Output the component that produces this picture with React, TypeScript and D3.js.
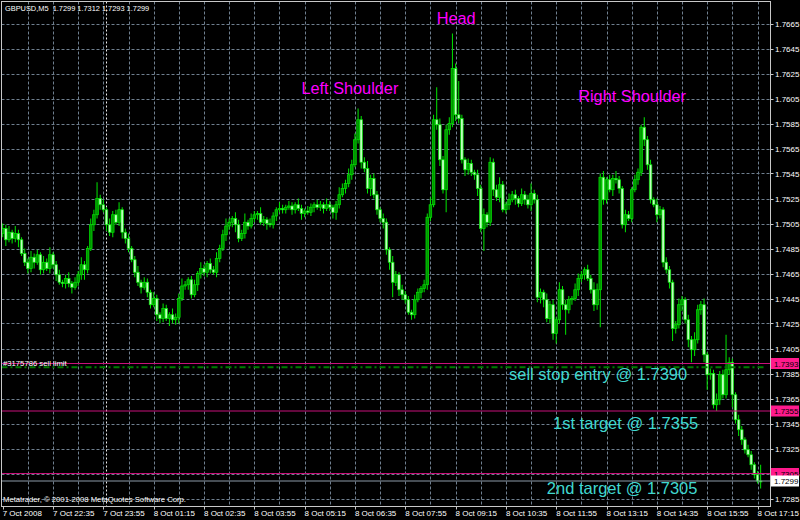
import React from 'react';
import * as d3 from 'd3';

const W = 800;
const H = 520;

const symbolHeader = 'GBPUSD,M5  1.7299 1.7312 1.7293 1.7299';
const copyright = 'Metatrader, \u00a9 2001-2008 MetaQuotes Software Corp.';

// prices in 1/10000 above 1.0000 (7501 => 1.7501)
const firstOpen = 7497;
const closes = [
  7501, 7492, 7498, 7493, 7497, 7492, 7481, 7474, 7469, 7478,
  7474, 7480, 7468, 7474, 7469, 7480, 7472, 7464, 7458, 7457,
  7461, 7457, 7454, 7458, 7464, 7472, 7468, 7485, 7504, 7512,
  7525, 7520, 7516, 7504, 7498, 7512, 7506, 7516, 7498, 7493,
  7485, 7476, 7466, 7458, 7454, 7458, 7450, 7440, 7445, 7432,
  7429, 7437, 7429, 7432, 7428, 7430, 7445, 7455, 7456, 7460,
  7448, 7456, 7465, 7469, 7466, 7473, 7468, 7466, 7477, 7485,
  7496, 7503, 7506, 7509, 7504, 7493, 7497, 7506, 7503, 7509,
  7512, 7513, 7506, 7508, 7505, 7504, 7511, 7516, 7517, 7516,
  7518, 7519, 7516, 7520, 7517, 7513, 7515, 7514, 7518, 7520,
  7518, 7520, 7517, 7520, 7518, 7514, 7520, 7528, 7533, 7537,
  7544, 7552, 7572, 7588, 7554, 7549, 7533, 7541, 7528, 7516,
  7509, 7506, 7484, 7474, 7458, 7464, 7452, 7448, 7444, 7434,
  7432, 7444, 7450, 7453, 7456, 7510, 7520, 7588, 7584, 7556,
  7532, 7580, 7585, 7629, 7592, 7589, 7556, 7548, 7553, 7546,
  7544, 7533, 7501, 7512, 7506, 7554, 7532, 7526, 7536, 7516,
  7520, 7524, 7528, 7525, 7521, 7528, 7524, 7520, 7529, 7524,
  7446, 7450, 7444, 7429, 7440, 7417, 7428, 7452, 7440, 7436,
  7444, 7445, 7452, 7461, 7464, 7468, 7461, 7452, 7440, 7452,
  7542, 7524, 7540, 7532, 7541, 7540, 7533, 7504, 7512, 7509,
  7532, 7540, 7546, 7582, 7572, 7552, 7524, 7520, 7512, 7516,
  7474, 7468, 7458, 7421, 7424, 7440, 7444, 7428, 7412, 7404,
  7412, 7436, 7440, 7400, 7384, 7385, 7360, 7364, 7384, 7368,
  7388, 7394, 7368, 7348, 7340, 7332, 7324, 7320, 7312, 7304,
  7299, 7299,
];
const upperWicks = [
  4, 3, 5, 2, 6, 3, 2, 4, 3, 5,
  3, 4, 2, 5, 3, 6, 2, 3, 4, 2,
  3, 5, 2, 4, 3, 6, 3, 2, 5, 4,
  13, 3, 4, 2, 5, 3, 4, 6, 2, 3,
  4, 2, 3, 5, 2, 4, 3, 2, 5, 3,
  2, 4, 3, 2, 5, 3, 4, 6, 3, 2,
  3, 4, 2, 5, 3, 2, 4, 3, 5, 3,
  4, 6, 3, 2, 5, 4, 3, 7, 2, 4,
  3, 2, 5, 3, 2, 4, 3, 2, 5, 3,
  2, 4, 3, 2, 5, 3, 2, 4, 3, 2,
  4, 3, 2, 5, 3, 2, 3, 6, 4, 3,
  5, 4, 5, 9, 3, 4, 6, 3, 4, 3,
  2, 4, 3, 2, 5, 3, 2, 4, 3, 3,
  2, 4, 3, 2, 4, 3, 6, 4, 26, 5,
  3, 4, 5, 28, 4, 27, 3, 2, 4, 3,
  2, 4, 3, 5, 2, 4, 3, 4, 6, 3,
  2, 5, 3, 4, 2, 5, 3, 4, 8, 3,
  4, 3, 2, 5, 3, 4, 2, 6, 3, 4,
  3, 2, 5, 4, 3, 2, 4, 3, 6, 5,
  3, 5, 2, 4, 3, 6, 3, 2, 4, 3,
  2, 4, 3, 2, 8, 3, 4, 2, 5, 3,
  2, 4, 3, 2, 3, 5, 3, 2, 4, 3,
  6, 4, 3, 5, 2, 4, 3, 5, 3, 4,
  28, 4, 3, 2, 4, 3, 2, 4, 3, 2,
  3, 13,
];
const lowerWicks = [
  3, 5, 2, 4, 3, 6, 2, 3, 4, 3,
  5, 2, 4, 3, 2, 4, 3, 5, 2, 3,
  4, 3, 5, 2, 3, 4, 8, 3, 2, 5,
  3, 4, 2, 5, 3, 4, 2, 3, 5, 4,
  3, 2, 4, 3, 5, 2, 4, 3, 2, 5,
  4, 3, 2, 6, 3, 4, 5, 2, 3, 4,
  3, 2, 5, 4, 3, 4, 3, 2, 4, 3,
  2, 5, 3, 4, 6, 3, 2, 4, 3, 2,
  3, 4, 2, 3, 5, 2, 3, 4, 2, 3,
  3, 2, 4, 3, 2, 5, 3, 2, 3, 4,
  2, 3, 4, 2, 3, 5, 6, 3, 2, 4,
  3, 4, 2, 3, 5, 3, 4, 6, 3, 4,
  3, 5, 4, 6, 12, 3, 5, 4, 3, 2,
  4, 3, 2, 5, 3, 4, 3, 2, 4, 5,
  3, 18, 4, 3, 5, 4, 3, 5, 4, 3,
  4, 6, 3, 18, 4, 3, 5, 3, 4, 2,
  3, 4, 2, 5, 3, 2, 4, 3, 5, 3,
  4, 5, 6, 3, 4, 5, 8, 3, 4, 20,
  3, 4, 2, 5, 3, 4, 2, 3, 5, 4,
  30, 4, 3, 2, 5, 3, 4, 3, 6, 2,
  3, 2, 4, 3, 5, 4, 3, 2, 6, 3,
  4, 3, 5, 10, 4, 3, 5, 3, 6, 10,
  5, 3, 4, 6, 12, 4, 3, 5, 4, 3,
  3, 4, 10, 3, 5, 4, 3, 2, 4, 3,
  2, 6,
];

const priceTicks = [
  1.7285, 1.7305, 1.7325, 1.7345, 1.7365, 1.7385, 1.7405, 1.7425, 1.7445, 1.7465,
  1.7485, 1.7505, 1.7525, 1.7545, 1.7565, 1.7585, 1.7605, 1.7625, 1.7645, 1.7665,
];
const timeLabels = [
  '7 Oct 2008', '7 Oct 22:35', '7 Oct 23:55', '8 Oct 01:15', '8 Oct 02:35', '8 Oct 03:55',
  '8 Oct 05:15', '8 Oct 06:35', '8 Oct 07:55', '8 Oct 09:15', '8 Oct 10:35', '8 Oct 11:55',
  '8 Oct 13:15', '8 Oct 14:35', '8 Oct 15:55', '8 Oct 17:15',
];
const orderLevels = [1.7393, 1.7355, 1.7305];
const bidPrice = 1.7299;
const pendingEntry = 1.7390;
const daySeparatorBar = 33;
const labelEveryBars = 16;
const gridEveryBars = 8;

const patternLabels = [
  { text: 'Head', bar: 138, price: 1.7665 },
  { text: 'Left Shoulder', bar: 95, price: 1.7609 },
  { text: 'Right Shoulder', bar: 183, price: 1.7602 },
];
const tradeLabels = [
  { text: 'sell stop entry @ 1.7390', bar: 161, price: 1.7380 },
  { text: '1st target @ 1.7355', bar: 175, price: 1.7341 },
  { text: '2nd target @ 1.7305', bar: 173, price: 1.7289 },
];

const PLOT = { left: 1.5, top: 1.5, right: 770.5, bottom: 506.5 };
const FONT = 'Liberation Sans, Arial, sans-serif';

export default function App() {
  const n = closes.length;
  const bars = closes.map((c, i) => {
    const o = i === 0 ? firstOpen : closes[i - 1];
    const hi = Math.max(o, c) + upperWicks[i];
    const lo = Math.min(o, c) - lowerWicks[i];
    return { i, o: 1 + o / 1e4, c: 1 + c / 1e4, h: 1 + hi / 1e4, l: 1 + lo / 1e4 };
  });

  const step = 3.145;
  const x = d3.scaleLinear().domain([0, n - 1]).range([2.7, 2.7 + (n - 1) * step]);
  const y = d3.scaleLinear().domain([1.7285, 1.7665]).range([498.5, 23.5]);

  const gridBars = d3.range(gridEveryBars, n, gridEveryBars);
  const labelBars = timeLabels.map((_, k) => k * labelEveryBars);

  const bodyW = 2.6;
  const wickColor = '#00e600';
  const bullFill = '#009600';
  const bearFill = '#bfffbf';
  const gridColor = '#6f7f8f';
  const orderColor = '#c8107a';

  return (
    <svg width={W} height={H} style={{ position: 'absolute', left: 0, top: 0, display: 'block' }}>
      <rect x={0} y={0} width={W} height={H} fill="#000" />
      <defs>
        <clipPath id="plotClip">
          <rect x={PLOT.left} y={PLOT.top} width={PLOT.right - PLOT.left} height={PLOT.bottom - PLOT.top} />
        </clipPath>
      </defs>
      {/* grid */}
      <g stroke={gridColor} strokeWidth={1} strokeDasharray="3,2">
        {priceTicks.map((p) => (
          <line key={'h' + p} x1={PLOT.left} x2={PLOT.right} y1={Math.round(y(p)) + 0.5} y2={Math.round(y(p)) + 0.5} />
        ))}
        {gridBars.map((b) => (
          <line key={'v' + b} x1={Math.round(x(b)) + 0.5} x2={Math.round(x(b)) + 0.5} y1={PLOT.top} y2={PLOT.bottom} />
        ))}
      </g>
      {/* day separator */}
      <line x1={Math.round(x(daySeparatorBar)) + 0.5} x2={Math.round(x(daySeparatorBar)) + 0.5} y1={PLOT.top} y2={PLOT.bottom}
        stroke="#e8e8e8" strokeWidth={1} strokeDasharray="2,2" />
      {/* candles */}
      <g clipPath="url(#plotClip)">
        {bars.map((b) => {
          const cx = x(b.i);
          const top = y(Math.max(b.o, b.c));
          const bot = y(Math.min(b.o, b.c));
          const bull = b.c > b.o;
          return (
            <g key={b.i}>
              <line x1={cx} x2={cx} y1={y(b.h)} y2={y(b.l)} stroke={wickColor} strokeWidth={1} />
              <rect x={cx - bodyW / 2} y={top} width={bodyW} height={Math.max(1, bot - top)}
                fill={bull ? bullFill : bearFill} stroke={wickColor} strokeWidth={0.7} />
            </g>
          );
        })}
      </g>
      {/* order lines */}
      {orderLevels.map((p) => (
        <line key={'o' + p} x1={PLOT.left} x2={PLOT.right} y1={y(p)} y2={y(p)} stroke={orderColor} strokeWidth={1.2} />
      ))}
      <line x1={PLOT.left} x2={765} y1={y(pendingEntry)} y2={y(pendingEntry)} stroke="#007a00" strokeWidth={2}
        strokeDasharray="6,3,2,3" />
      <line x1={PLOT.left} x2={PLOT.right} y1={y(bidPrice)} y2={y(bidPrice)} stroke="#8c9aa8" strokeWidth={1} />
      <text x={3} y={y(orderLevels[0]) + 2.5} fill="#ffffff" fontFamily={FONT} fontSize={7.7}>#3175786 sell limit</text>

      {/* frame */}
      <rect x={PLOT.left} y={PLOT.top} width={PLOT.right - PLOT.left} height={PLOT.bottom - PLOT.top}
        fill="none" stroke="#c8c8c8" strokeWidth={1} />

      {/* price axis */}
      {priceTicks.map((p) => (
        <g key={'pt' + p}>
          <line x1={PLOT.right} x2={PLOT.right + 3} y1={Math.round(y(p)) + 0.5} y2={Math.round(y(p)) + 0.5} stroke="#c8c8c8" />
          <text x={775} y={y(p) + 3} fill="#ffffff" fontFamily={FONT} fontSize={8}>{p.toFixed(4)}</text>
        </g>
      ))}
      {orderLevels.map((p) => (
        <g key={'ol' + p}>
          <rect x={771} y={y(p) - 5.5} width={28} height={11} fill="#ff1a8c" />
          <text x={774} y={y(p) + 3} fill="#000" fontFamily={FONT} fontSize={8}>{p.toFixed(4)}</text>
        </g>
      ))}
      <rect x={771} y={y(bidPrice) - 5.5} width={28} height={11} fill="#ffffff" />
      <text x={774} y={y(bidPrice) + 3} fill="#000" fontFamily={FONT} fontSize={8}>{bidPrice.toFixed(4)}</text>

      {/* time axis */}
      {labelBars.map((b, k) => (
        <g key={'tl' + k}>
          <line x1={Math.round(x(b)) + 0.5} x2={Math.round(x(b)) + 0.5} y1={PLOT.bottom} y2={PLOT.bottom + 3} stroke="#c8c8c8" />
          <text x={x(b)} y={516} fill="#ffffff" fontFamily={FONT} fontSize={8}>{timeLabels[k]}</text>
        </g>
      ))}

      {/* header & copyright */}
      <text x={5} y={11} fill="#ffffff" fontFamily={FONT} fontSize={7.4} style={{ whiteSpace: 'pre' }}>{symbolHeader}</text>
      <text x={3} y={502} fill="#ffffff" fontFamily={FONT} fontSize={7.7}>{copyright}</text>

      {/* annotations */}
      {patternLabels.map((a) => (
        <text key={a.text} x={x(a.bar)} y={y(a.price)} fill="#ff00ff" fontFamily={FONT} fontSize={16.3}>{a.text}</text>
      ))}
      {tradeLabels.map((a) => (
        <text key={a.text} x={x(a.bar)} y={y(a.price)} fill="#40d8d0" fontFamily={FONT} fontSize={16.5}>{a.text}</text>
      ))}
    </svg>
  );
}
